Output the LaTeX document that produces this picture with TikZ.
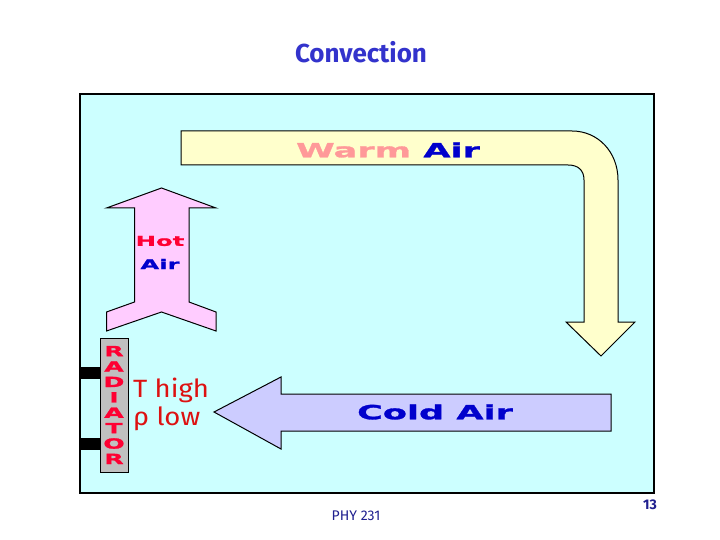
\documentclass[tikz,border=0pt]{standalone}
\usepackage{fontspec}
\setmainfont{Fira Sans}
\newfontfamily\widefont[FakeStretch=1.8,FakeBold=1.5]{DejaVu Sans Bold}
\newfontfamily\handfont[FakeStretch=1.1]{Fira Sans}
\usepackage{tikz}
\usetikzlibrary{positioning}
\definecolor{roomcyan}{HTML}{CCFFFF}
\definecolor{warmyellow}{HTML}{FFFFCC}
\definecolor{hotpink}{HTML}{FFCCFF}
\definecolor{coldblue}{HTML}{CCCCFF}
\definecolor{titleblue}{HTML}{3333CC}
\definecolor{airblue}{HTML}{0000CC}
\definecolor{warmtext}{HTML}{FF9999}
\definecolor{hotred}{HTML}{FF0033}
\definecolor{labelred}{HTML}{DD1111}
\definecolor{radgray}{HTML}{C0C0C0}
\definecolor{footblue}{HTML}{1F1F8F}

\begin{document}
\begin{tikzpicture}[x=1pt, y=-1pt,
  airarrow/.style={draw=black, line width=1pt, line join=miter},
  airlabel/.style={font=\widefont\fontsize{19.5}{19.5}\selectfont, inner sep=0pt}]
  \useasboundingbox (0,0) rectangle (720,540);
  \fill[white] (0,0) rectangle (720,540);

  % room
  \draw[fill=roomcyan, line width=1.6pt] (80,94) rectangle (654,493);
  \node[font=\bfseries\fontsize{26}{26}\selectfont, text=titleblue] (title) at (361,52) {Convection};

  % warm air, bends down on the right
  \draw[airarrow, fill=warmyellow] (181,131) -- (572,131)
    .. controls (598,131) and (618,152) .. (618,180) -- (618,322) -- (635,322)
    -- (601,356) -- (566,322) -- (584,322) -- (584,180)
    .. controls (584,170) and (578,165) .. (568,165) -- (181,165) -- cycle;
  \node[airlabel] (warm) at (388,150) {\textcolor{warmtext}{Warm} \textcolor{airblue}{Air}};

  % hot air rising
  \draw[airarrow, fill=hotpink] (161.5,188) -- (216,208) -- (189,208) -- (189,302)
    -- (216,312) -- (216,331) -- (161.5,312) -- (106.5,331) -- (106.5,312)
    -- (134.5,302) -- (134.5,208) -- (106.5,208) -- cycle;
  \node[airlabel, font=\widefont\fontsize{13.5}{13.5}\selectfont, text=hotred] (hot) at (160,241) {Hot};
  \node[airlabel, font=\widefont\fontsize{13.5}{13.5}\selectfont, text=airblue] (hotair) at (160,264) {Air};

  % cold air going back
  \draw[airarrow, fill=coldblue] (214,412) -- (281,377) -- (281,394) -- (611,394)
    -- (611,431) -- (281,431) -- (281,449) -- cycle;
  \node[airlabel, text=airblue] (cold) at (435,412) {Cold Air};

  % radiator on the wall
  \fill[black] (80,367) rectangle (100,379);
  \fill[black] (80,438) rectangle (100,450);
  \node[draw=black, fill=radgray, line width=0.8pt, minimum width=28pt, minimum height=134pt,
    inner sep=0pt, text=hotred, align=center,
    font=\widefont\fontsize{14}{15.4}\selectfont] (radiator) at (114,405)
    {R\\A\\D\\I\\A\\T\\O\\R};

  \node[font=\handfont\fontsize{25}{25}\selectfont, text=labelred, anchor=west, inner sep=0pt] (thigh) at (133,390) {T high};
  \node[font=\handfont\fontsize{25}{25}\selectfont, text=labelred, anchor=west, inner sep=0pt] (rholow) at (133,419) {ρ low};

  % footer
  \node[font=\fontsize{14}{14}\selectfont, text=footblue] (course) at (356,516) {PHY 231};
  \node[font=\bfseries\fontsize{14}{14}\selectfont, text=footblue] (page) at (650,505) {13};
\end{tikzpicture}
\end{document}
